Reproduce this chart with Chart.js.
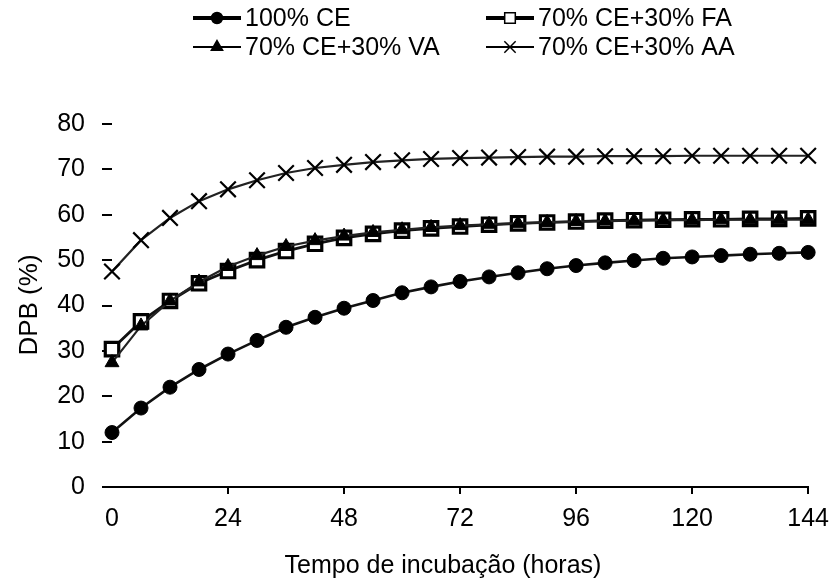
<!DOCTYPE html>
<html>
<head>
<meta charset="utf-8">
<title>DPB vs tempo de incubação</title>
<script src="https://cdn.jsdelivr.net/npm/chart.js@4.4.1/dist/chart.umd.min.js"></script>
<style>
  html, body { margin: 0; padding: 0; background: #fff; }
  #wrap { width: 839px; height: 581px; }
</style>
</head>
<body>
<div id="wrap"><canvas id="dpbChart" width="839" height="581"></canvas></div>
<script>
var hours = [0, 6, 12, 18, 24, 30, 36, 42, 48, 54, 60, 66, 72, 78, 84, 90, 96, 102, 108, 114, 120, 126, 132, 138, 144];
var xTicks = [0, 24, 48, 72, 96, 120, 144];
var yTicks = [0, 10, 20, 30, 40, 50, 60, 70, 80];

var seriesNames = ['100% CE', '70% CE+30% FA', '70% CE+30% VA', '70% CE+30% AA'];
var ceData = [12.0, 17.4, 22.0, 25.9, 29.3, 32.3, 35.2, 37.4, 39.4, 41.1, 42.8, 44.1, 45.3, 46.3, 47.2, 48.1, 48.8, 49.4, 49.9, 50.4, 50.7, 51.0, 51.3, 51.5, 51.7];
var faData = [30.4, 36.5, 41.0, 44.9, 47.6, 50.0, 52.0, 53.6, 54.9, 55.8, 56.5, 57.0, 57.4, 57.8, 58.1, 58.3, 58.5, 58.7, 58.8, 58.9, 59.0, 59.0, 59.1, 59.1, 59.2];
var vaData = [27.4, 35.5, 41.0, 45.2, 48.6, 51.0, 53.0, 54.3, 55.3, 56.1, 56.7, 57.2, 57.6, 57.9, 58.1, 58.3, 58.5, 58.6, 58.7, 58.8, 58.8, 58.9, 58.9, 58.9, 58.9];
var aaData = [47.5, 54.4, 59.3, 63.0, 65.6, 67.6, 69.2, 70.3, 71.0, 71.6, 72.0, 72.3, 72.5, 72.6, 72.7, 72.8, 72.8, 72.9, 72.9, 72.9, 73.0, 73.0, 73.0, 73.0, 73.0];

var xTitle = 'Tempo de incubação (horas)';
var yTitle = 'DPB (%)';

var fontName = '"Liberation Sans", Arial, sans-serif';

function toPoints(values) {
    var pts = [];
    for (var i = 0; i < hours.length; i++) {
        pts.push({ x: hours[i], y: values[i] });
    }
    return pts;
}

// legend (2 x 2 grid) and axis titles drawn by hand
var legendSpots = [[193, 18], [486, 18], [193, 47], [486, 47]];
var extrasPlugin = {
    id: 'extras',
    afterDraw: function(chart) {
        var ctx = chart.ctx;
        var sets = chart.data.datasets;
        ctx.save();
        for (var i = 0; i < sets.length; i++) {
            var ds = sets[i];
            var x = legendSpots[ds.legendIndex][0];
            var y = legendSpots[ds.legendIndex][1];
            ctx.strokeStyle = '#000';
            ctx.lineWidth = ds.legendLine;
            ctx.beginPath();
            ctx.moveTo(x, y);
            ctx.lineTo(x + 48, y);
            ctx.stroke();
            ctx.fillStyle = ds.pointBackgroundColor;
            ctx.strokeStyle = '#000';
            ctx.lineWidth = 1.5;
            Chart.helpers.drawPoint(ctx, {
                pointStyle: ds.pointStyle,
                radius: ds.legendRadius,
                rotation: 0,
                borderWidth: 1.5
            }, x + 24, y);
            ctx.fillStyle = '#000';
            ctx.font = '25px ' + fontName;
            ctx.textAlign = 'left';
            ctx.textBaseline = 'middle';
            ctx.fillText(ds.label, x + 52, y + 1);
        }

        ctx.fillStyle = '#000';
        ctx.textAlign = 'center';
        ctx.textBaseline = 'middle';
        ctx.font = '25px ' + fontName;
        ctx.fillText(xTitle, 443, 566);

        ctx.translate(30, 305);
        ctx.rotate(-Math.PI / 2);
        ctx.font = '26px ' + fontName;
        ctx.fillText(yTitle, 0, 0);
        ctx.restore();
    }
};

var ctx1 = document.getElementById('dpbChart').getContext('2d');
var dpbChart = new Chart(ctx1, {
    type: 'line',
    data: {
        datasets: [{
            label: seriesNames[0],
            data: toPoints(ceData),
            borderColor: '#111',
            borderWidth: 2.6,
            pointStyle: 'circle',
            pointRadius: 7,
            pointBackgroundColor: '#000',
            pointBorderColor: '#000',
            pointBorderWidth: 1,
            legendIndex: 0,
            legendLine: 4,
            legendRadius: 5.5,
            order: 0
        }, {
            label: seriesNames[1],
            data: toPoints(faData),
            borderColor: '#111',
            borderWidth: 2.8,
            pointStyle: 'rect',
            pointRadius: 9.5,
            pointBackgroundColor: '#fff',
            pointBorderColor: '#000',
            pointBorderWidth: 3.2,
            legendIndex: 1,
            legendLine: 4,
            legendRadius: 7.5,
            order: 2
        }, {
            label: seriesNames[2],
            data: toPoints(vaData),
            borderColor: '#222',
            borderWidth: 2.2,
            pointStyle: 'triangle',
            pointRadius: 8,
            pointBackgroundColor: '#000',
            pointBorderColor: '#000',
            pointBorderWidth: 1,
            legendIndex: 2,
            legendLine: 2,
            legendRadius: 6.5,
            order: 1
        }, {
            label: seriesNames[3],
            data: toPoints(aaData),
            borderColor: '#222',
            borderWidth: 2.2,
            pointStyle: 'crossRot',
            pointRadius: 11,
            pointBackgroundColor: '#000',
            pointBorderColor: '#000',
            pointBorderWidth: 2.2,
            legendIndex: 3,
            legendLine: 2,
            legendRadius: 8,
            order: 3
        }]
    },
    options: {
        responsive: false,
        animation: false,
        devicePixelRatio: 1,
        clip: false,
        layout: {
            padding: { top: 124, right: 27, bottom: 0, left: 0 }
        },
        plugins: {
            legend: { display: false },
            tooltip: { enabled: false }
        },
        scales: {
            x: {
                type: 'linear',
                min: 0,
                max: 144,
                afterFit: function(scale) { scale.height = 94; },
                afterBuildTicks: function(scale) {
                    scale.ticks = xTicks.map(function(v) { return { value: v }; });
                },
                border: { display: true, color: '#000', width: 2 },
                grid: {
                    drawOnChartArea: false,
                    drawTicks: true,
                    tickLength: 7,
                    lineWidth: 2,
                    color: function(c) {
                        return c.tick && c.tick.value === 0 ? 'rgba(0,0,0,0)' : '#000';
                    }
                },
                ticks: {
                    color: '#000',
                    padding: 10,
                    maxRotation: 0,
                    font: { family: fontName, size: 25 }
                },
                title: { display: false }
            },
            y: {
                type: 'linear',
                min: 0,
                max: 80,
                afterFit: function(scale) { scale.width = 112; },
                afterBuildTicks: function(scale) {
                    scale.ticks = yTicks.map(function(v) { return { value: v }; });
                },
                border: { display: false },
                grid: {
                    drawOnChartArea: false,
                    drawTicks: true,
                    tickLength: 10,
                    lineWidth: 2,
                    color: '#000'
                },
                ticks: {
                    color: '#000',
                    padding: 17,
                    font: { family: fontName, size: 25 }
                },
                title: { display: false }
            }
        }
    },
    plugins: [extrasPlugin]
});
</script>
</body>
</html>
